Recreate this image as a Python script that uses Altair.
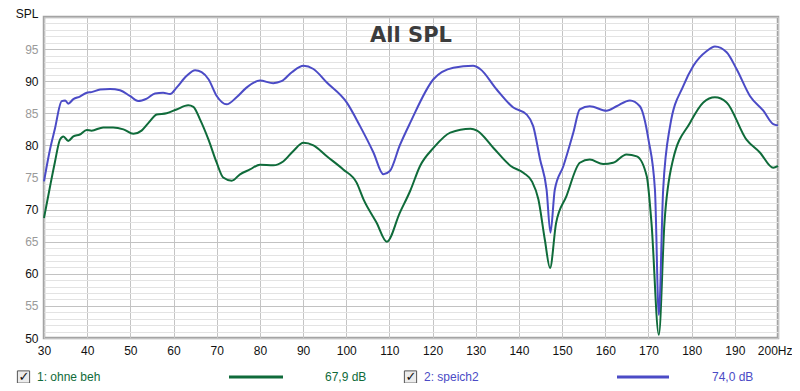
import altair as alt
import pandas as pd

# ---- data ----
freq_ohne = [30, 31.4, 32.5, 33.7, 34.5, 35.6, 36.8, 38.3, 39.9, 41.0, 43.7, 46.0, 48.4, 50.7,
             52.6, 54.2, 56.1, 58.4, 60.7, 63.4, 64.6, 66.1, 68.1, 70.0, 71.5, 73.5, 75.4,
             77.7, 80.0, 83.1, 85.4, 87.7, 90.1, 92.4, 95.5, 99.3, 102.4, 104.0, 107.0,
             109.4, 112.4, 114.8, 117.1, 120.2, 124.1, 128.8, 130.3, 134.1, 138.1, 141.1,
             143.0, 144.5, 146.0, 147.2, 148.6, 151.0, 154.1, 156.4, 159.5, 161.8, 164.9,
             167.3, 169.6, 170.7, 172.4, 173.7, 175.7, 179.6, 182.7, 185.4, 188.1, 192.7,
             195.8, 198.9, 200]
spl_ohne = [68.7, 73.6, 77.3, 80.9, 81.4, 80.7, 81.4, 81.7, 82.4, 82.3, 82.8, 82.8, 82.5, 81.8,
            82.3, 83.5, 84.8, 85.0, 85.6, 86.25, 86.0, 84.1, 80.9, 77.3, 75.0, 74.5, 75.5,
            76.25, 77.0, 76.9, 77.5, 79.1, 80.4, 80.0, 78.3, 76.25, 74.2, 71.6, 68.0,
            65.0, 69.5, 72.9, 76.8, 79.6, 82.0, 82.6, 82.3, 79.6, 76.8, 75.7,
            74.4, 71.6, 65.3, 60.9, 67.9, 72.1, 77.3, 77.8, 77.1, 77.3, 78.6,
            78.3, 75.2, 67.9, 50.5, 67.9, 77.8, 83.5, 86.7, 87.5, 86.7, 80.9,
            78.9, 76.5, 76.8]

freq_speich = [30, 31.4, 32.5, 34.1, 34.9, 35.6, 36.8, 38.3, 39.9, 41.0, 43.0, 45.3, 47.6, 49.9,
               51.8, 53.8, 55.7, 57.6, 59.2, 60.7, 63.0, 65.0, 66.5, 68.1, 70.0, 72.3, 74.6,
               76.9, 80.0, 83.1, 85.0, 87.4, 90.1, 92.4, 95.5, 100.1, 103.2, 106.3, 108.6,
               110.1, 112.4, 114.8, 120.2, 124.8, 129.4, 131.0, 134.8, 138.7, 141.8, 143.3,
               144.9, 146.4, 147.3, 148.3, 150.3, 152.6, 154.1, 156.4, 160.3, 162.6, 165.7,
               168.0, 170.0, 171.5, 172.4, 173.4, 175.0, 178.1, 180.4, 183.5, 185.4, 188.1,
               190.4, 193.5, 196.6, 198.9, 200]
spl_speich = [74.4, 79.4, 82.5, 86.9, 87.0, 86.5, 87.2, 87.6, 88.2, 88.3, 88.7, 88.8, 88.6, 87.7,
              86.9, 87.3, 88.1, 88.2, 88.0, 89.0, 90.8, 91.7, 91.4, 90.3, 87.7, 86.4, 87.5,
              89.0, 90.1, 89.7, 90.0, 91.4, 92.4, 91.9, 89.8, 86.7, 83.0, 78.9, 75.5,
              76.0, 80.0, 83.5, 90.3, 92.1, 92.4, 91.9, 88.75, 85.9, 84.8, 83.0,
              77.8, 73.1, 66.4, 73.1, 76.8, 82.0, 85.6, 86.1, 85.4, 86.1, 87.0,
              86.1, 80.9, 73.1, 53.6, 73.1, 83.0, 89.3, 92.4, 94.7, 95.4, 94.5,
              91.9, 87.7, 85.4, 83.3, 83.1]

series_names = ["1: ohne beh", "2: speich2"]
series_colors = ["#0f6b3a", "#4b4bc6"]
avg_labels = ["67,9 dB", "74,0 dB"]
x_ticks = list(range(30, 201, 10))
y_grid = list(range(50, 101))
chart_title = "All SPL"
y_title = "SPL"

df = pd.concat([
    pd.DataFrame({"freq": freq_ohne, "spl": spl_ohne, "series": series_names[0]}),
    pd.DataFrame({"freq": freq_speich, "spl": spl_speich, "series": series_names[1]}),
])

FONT = "Liberation Sans"
x_scale = alt.Scale(domain=[30, 200], nice=False, zero=False)
y_scale = alt.Scale(domain=[50, 100], nice=False, zero=False)

lines = alt.Chart(df).mark_line(strokeWidth=2, interpolate="monotone").encode(
    x=alt.X("freq:Q", scale=x_scale, axis=alt.Axis(
        values=x_ticks, title=None, grid=True, gridColor="#c4c4c4", gridWidth=1,
        ticks=False, domain=False, labelFont=FONT, labelFontSize=12, labelColor="#111111",
        labelPadding=7, labelFlush=False, labelOverlap=False,
        labelAlign={"condition": {"test": "datum.value == 200", "value": "right"},
                    "value": "center"},
        labelOffset={"condition": {"test": "datum.value == 200", "value": 14},
                     "value": 0},
        labelExpr="datum.value == 200 ? '200Hz' : datum.label")),
    y=alt.Y("spl:Q", scale=y_scale, axis=alt.Axis(
        values=y_grid, grid=True,
        gridColor={"condition": {"test": "datum.value % 5 === 0", "value": "#c2c2c2"},
                   "value": "#e3e3e3"},
        ticks=False, domain=False, labelFont=FONT, labelFontSize=12, labelPadding=6,
        labelOverlap=False, labelFlush=False,
        labelColor={"condition": {"test": "datum.value % 10 === 5", "value": "#9a9a9a"},
                    "value": "#111111"},
        labelExpr="(datum.value % 5 === 0 && datum.value < 100) ? datum.label : ''",
        title=y_title, titleAngle=0, titleAlign="right", titleBaseline="alphabetic",
        titleX=-6, titleY=0, titleFont=FONT, titleFontSize=12, titleFontWeight="normal",
        titleColor="#111111")),
    color=alt.Color("series:N", scale=alt.Scale(domain=series_names, range=series_colors),
                    legend=None),
    order=alt.Order("series:N"),
)

title_layer = alt.Chart(pd.DataFrame({"t": [chart_title]})).mark_text(
    font="DejaVu Sans", fontSize=21, fontWeight="bold", color="#3c3c3c",
    align="center", baseline="alphabetic"
).encode(text="t:N", x=alt.value(367), y=alt.value(25))

layers = [lines, title_layer]

# custom legend row under the plot
legend_x = [(-20.5, -7, 185, 239, 281), (366.5, 380, 573, 625, 668)]
for i, (cb, tx, l0, l1, av) in enumerate(legend_x):
    one = pd.DataFrame({"name": [series_names[i]], "avg": [avg_labels[i]], "chk": ["✓"]})
    base = alt.Chart(one)
    layers.append(base.mark_square(size=150, fill="#ececec", stroke="#555555",
                                   strokeWidth=1, opacity=1).encode(
        x=alt.value(cb), y=alt.value(360)))
    layers.append(base.mark_text(font="DejaVu Sans", fontSize=13, fontWeight="bold",
                                 color="#111111", align="center", baseline="middle").encode(
        text="chk:N", x=alt.value(cb + 0.5), y=alt.value(360)))
    layers.append(base.mark_text(font=FONT, fontSize=12, color=series_colors[i],
                                 align="left", baseline="middle").encode(
        text="name:N", x=alt.value(tx), y=alt.value(360)))
    layers.append(base.mark_rule(strokeWidth=3, color=series_colors[i]).encode(
        x=alt.value(l0), x2=alt.value(l1), y=alt.value(360)))
    layers.append(base.mark_text(font=FONT, fontSize=12, color=series_colors[i],
                                 align="left", baseline="middle").encode(
        text="avg:N", x=alt.value(av), y=alt.value(360)))

chart = alt.layer(*layers).properties(
    width=734, height=321,
    autosize=alt.AutoSizeParams(type="none"),
    padding={"left": 36, "top": 9, "right": 14, "bottom": 45},
    background="white",
).configure_view(stroke="#a4a4a4", strokeWidth=2.5)

chart.save("out.html", embed_options={"renderer": "svg", "actions": False})
